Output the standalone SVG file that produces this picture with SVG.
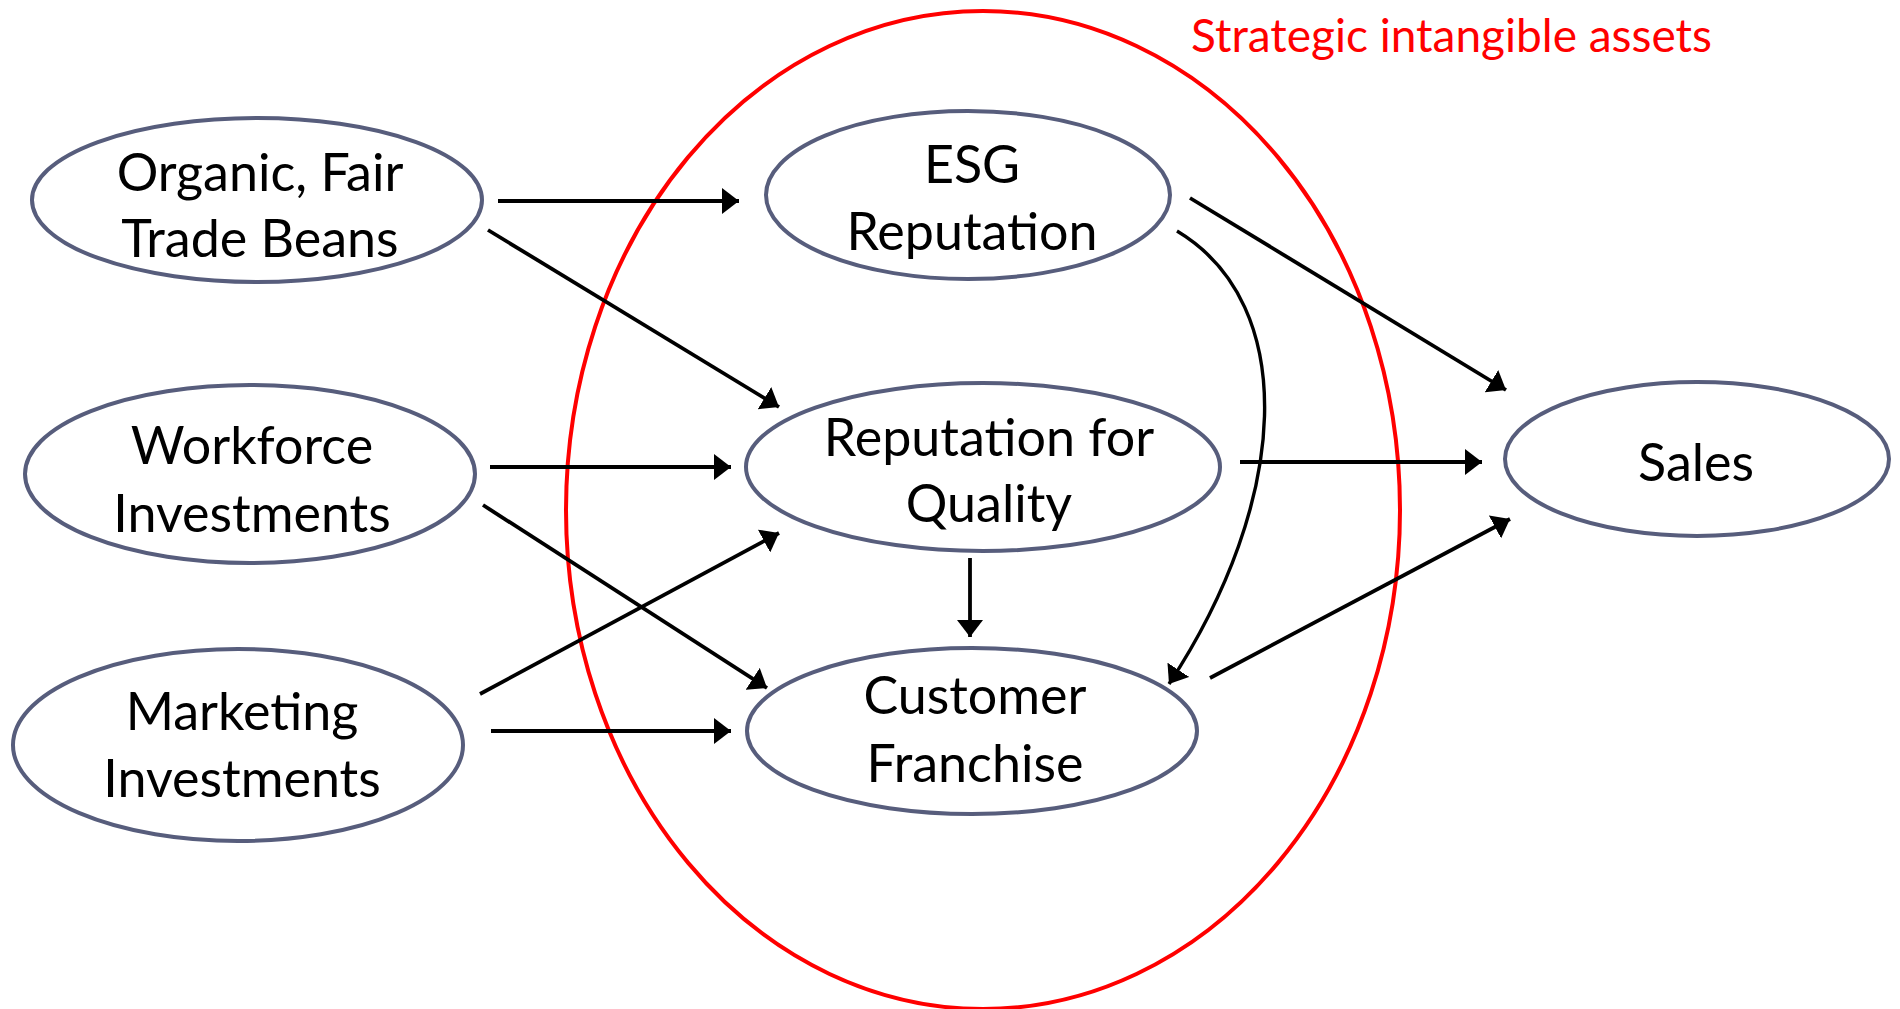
<svg xmlns="http://www.w3.org/2000/svg" width="1900" height="1009" viewBox="0 0 1900 1009">
  <style>
    .node { fill: #ffffff; stroke: #575d7c; stroke-width: 4; }
    .label { font-family: Lato, "Open Sans", "Liberation Sans", sans-serif; font-size: 52px; fill: #000000; text-anchor: middle; }
    .edge { fill: none; stroke: #000000; stroke-width: 3.8; marker-end: url(#arrow); }
    .curve { stroke-width: 3.4; }
    .group-outline { fill: none; stroke: #ff0000; stroke-width: 4; }
    .group-title { font-family: Lato, "Open Sans", "Liberation Sans", sans-serif; font-size: 46px; fill: #ff0000; }
  </style>
  <defs>
    <marker id="arrow" markerUnits="userSpaceOnUse" viewBox="0 0 17 26" refX="17" refY="13" markerWidth="17" markerHeight="26" orient="auto">
      <path d="M0,0 L17,13 L0,26 z" fill="#000000"/>
    </marker>
  </defs>

  <rect x="0" y="0" width="1900" height="1009" fill="#ffffff"/>

  <!-- Strategic intangible assets grouping -->
  <g id="strategic-assets">
    <ellipse class="group-outline" cx="983" cy="510" rx="417" ry="499"/>
    <text class="group-title" x="1191" y="52">Strategic intangible assets</text>
  </g>

  <!-- Nodes -->
  <g id="organic-beans">
    <ellipse class="node" cx="257" cy="200" rx="225" ry="82"/>
    <text class="label" x="260" y="191">Organic, Fair</text>
    <text class="label" x="260" y="257">Trade Beans</text>
  </g>
  <g id="workforce">
    <ellipse class="node" cx="250" cy="474" rx="225" ry="89"/>
    <text class="label" x="252" y="464">Workforce</text>
    <text class="label" x="252" y="532">Investments</text>
  </g>
  <g id="marketing">
    <ellipse class="node" cx="238" cy="745" rx="225" ry="96"/>
    <text class="label" x="242" y="730">Marketing</text>
    <text class="label" x="242" y="797">Investments</text>
  </g>
  <g id="esg-reputation">
    <ellipse class="node" cx="968" cy="195" rx="202" ry="84"/>
    <text class="label" x="972" y="183">ESG</text>
    <text class="label" x="972" y="250">Reputation</text>
  </g>
  <g id="quality-reputation">
    <ellipse class="node" cx="983" cy="467" rx="237" ry="84"/>
    <text class="label" x="989" y="456">Reputation for</text>
    <text class="label" x="989" y="522">Quality</text>
  </g>
  <g id="customer-franchise">
    <ellipse class="node" cx="972" cy="731" rx="225" ry="83"/>
    <text class="label" x="975" y="714">Customer</text>
    <text class="label" x="975" y="782">Franchise</text>
  </g>
  <g id="sales">
    <ellipse class="node" cx="1697" cy="459" rx="192" ry="77"/>
    <text class="label" x="1696" y="481">Sales</text>
  </g>

  <!-- Connectors -->
  <g id="connectors">
    <line class="edge" x1="498" y1="201" x2="739" y2="201"/>
    <line class="edge" x1="488" y1="230" x2="779" y2="407"/>
    <line class="edge" x1="490" y1="467" x2="731" y2="467"/>
    <line class="edge" x1="483" y1="505" x2="767" y2="688"/>
    <line class="edge" x1="480" y1="694" x2="779" y2="533"/>
    <line class="edge" x1="491" y1="731" x2="731" y2="731"/>
    <line class="edge" x1="1190" y1="198" x2="1506" y2="390"/>
    <path class="edge curve" d="M1177,231 C1300,305 1290,500 1169,684"/>
    <line class="edge" x1="1240" y1="462" x2="1482" y2="462"/>
    <line class="edge" x1="970" y1="558" x2="970" y2="637"/>
    <line class="edge" x1="1210" y1="678" x2="1510" y2="519"/>
  </g>
</svg>
